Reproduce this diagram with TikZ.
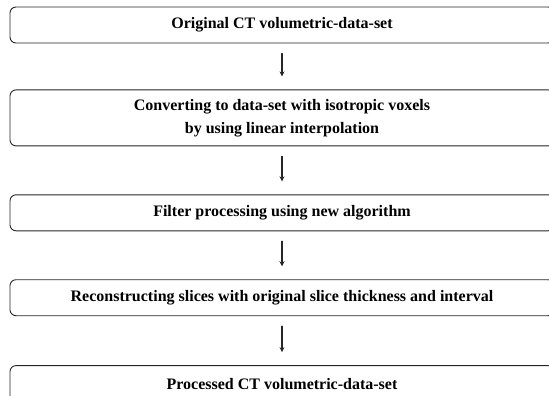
\documentclass[tikz,border=0pt]{standalone}
\usepackage{fontspec}
\setmainfont{Liberation Serif}
\usepackage{tikz}
\usetikzlibrary{arrows.meta,positioning}
\tikzset{
  every picture/.append style={line cap=round,line join=round},
  ct step/.style={draw=black!85,line width=0.9pt,rounded corners=6pt,
    minimum width=544pt,minimum height=36pt,align=center,
    font=\fontsize{16}{23}\selectfont\bfseries,inner sep=2pt},
  ct arrow/.style={line width=1.1pt,black!85,-{Stealth[length=5pt,width=5pt]}}
}

\begin{document}
\begin{tikzpicture}[x=1pt,y=1pt]
  \useasboundingbox (0,0) rectangle (549,-396);
  \clip (0,0) rectangle (549,-396);

  \node[ct step] (orig) at (282,-25) {Original CT volumetric-data-set};
  \node[ct step,minimum height=56pt,below=46pt of orig] (iso)
    {Converting to data-set with isotropic voxels\\by using linear interpolation};
  \node[ct step,below=48pt of iso] (filt) {Filter processing using new algorithm};
  \node[ct step,below=48pt of filt] (recon)
    {Reconstructing slices with original slice thickness and interval};
  \node[ct step,below=49pt of recon] (proc) {Processed CT volumetric-data-set};

  \foreach \a/\b in {orig/iso,iso/filt,filt/recon,recon/proc} {
    \draw[ct arrow] ([yshift=-10pt]\a.south) -- ([yshift=13pt]\b.north);
  }
\end{tikzpicture}
\end{document}
